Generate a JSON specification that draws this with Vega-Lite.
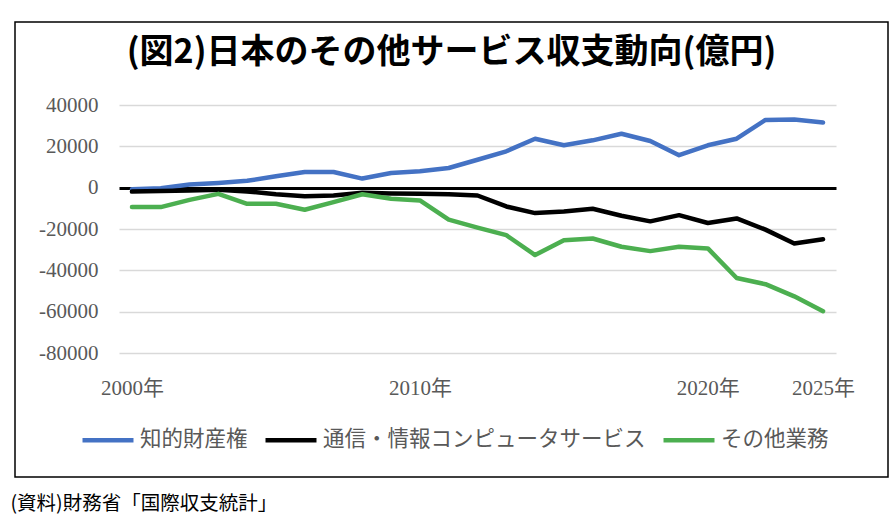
{
  "$schema": "https://vega.github.io/schema/vega-lite/v6.json",
  "description": "日本のその他サービス収支動向（億円）",
  "width": 873,
  "height": 455,
  "autosize": {"type": "none"},
  "padding": {"left": 15, "top": 22, "right": 8, "bottom": 41},
  "title": {
    "text": "(図2)日本のその他サービス収支動向(億円)",
    "font": "Noto Sans CJK JP",
    "fontSize": 34,
    "fontWeight": "bold",
    "color": "#000000",
    "anchor": "middle",
    "frame": "group",
    "baseline": "middle",
    "offset": -65
  },
  "data": {
    "values": [
      {"year": 2000, "series": "知的財産権", "value": -800},
      {"year": 2001, "series": "知的財産権", "value": -300},
      {"year": 2002, "series": "知的財産権", "value": 1500},
      {"year": 2003, "series": "知的財産権", "value": 2300},
      {"year": 2004, "series": "知的財産権", "value": 3300},
      {"year": 2005, "series": "知的財産権", "value": 5500},
      {"year": 2006, "series": "知的財産権", "value": 7600},
      {"year": 2007, "series": "知的財産権", "value": 7600},
      {"year": 2008, "series": "知的財産権", "value": 4400},
      {"year": 2009, "series": "知的財産権", "value": 7100},
      {"year": 2010, "series": "知的財産権", "value": 7900},
      {"year": 2011, "series": "知的財産権", "value": 9500},
      {"year": 2012, "series": "知的財産権", "value": 13500},
      {"year": 2013, "series": "知的財産権", "value": 17600},
      {"year": 2014, "series": "知的財産権", "value": 23700},
      {"year": 2015, "series": "知的財産権", "value": 20500},
      {"year": 2016, "series": "知的財産権", "value": 22900},
      {"year": 2017, "series": "知的財産権", "value": 26100},
      {"year": 2018, "series": "知的財産権", "value": 22600},
      {"year": 2019, "series": "知的財産権", "value": 15700},
      {"year": 2020, "series": "知的財産権", "value": 20500},
      {"year": 2021, "series": "知的財産権", "value": 23700},
      {"year": 2022, "series": "知的財産権", "value": 32800},
      {"year": 2023, "series": "知的財産権", "value": 33000},
      {"year": 2024, "series": "知的財産権", "value": 31500},
      {"year": 2000, "series": "通信・情報コンピュータサービス", "value": -1900},
      {"year": 2001, "series": "通信・情報コンピュータサービス", "value": -1600},
      {"year": 2002, "series": "通信・情報コンピュータサービス", "value": -1400},
      {"year": 2003, "series": "通信・情報コンピュータサービス", "value": -1000},
      {"year": 2004, "series": "通信・情報コンピュータサービス", "value": -1800},
      {"year": 2005, "series": "通信・情報コンピュータサービス", "value": -3200},
      {"year": 2006, "series": "通信・情報コンピュータサービス", "value": -4200},
      {"year": 2007, "series": "通信・情報コンピュータサービス", "value": -3800},
      {"year": 2008, "series": "通信・情報コンピュータサービス", "value": -2500},
      {"year": 2009, "series": "通信・情報コンピュータサービス", "value": -2800},
      {"year": 2010, "series": "通信・情報コンピュータサービス", "value": -2900},
      {"year": 2011, "series": "通信・情報コンピュータサービス", "value": -3200},
      {"year": 2012, "series": "通信・情報コンピュータサービス", "value": -3800},
      {"year": 2013, "series": "通信・情報コンピュータサービス", "value": -9100},
      {"year": 2014, "series": "通信・情報コンピュータサービス", "value": -12300},
      {"year": 2015, "series": "通信・情報コンピュータサービス", "value": -11500},
      {"year": 2016, "series": "通信・情報コンピュータサービス", "value": -10200},
      {"year": 2017, "series": "通信・情報コンピュータサービス", "value": -13600},
      {"year": 2018, "series": "通信・情報コンピュータサービス", "value": -16300},
      {"year": 2019, "series": "通信・情報コンピュータサービス", "value": -13300},
      {"year": 2020, "series": "通信・情報コンピュータサービス", "value": -17100},
      {"year": 2021, "series": "通信・情報コンピュータサービス", "value": -14900},
      {"year": 2022, "series": "通信・情報コンピュータサービス", "value": -20300},
      {"year": 2023, "series": "通信・情報コンピュータサービス", "value": -27000},
      {"year": 2024, "series": "通信・情報コンピュータサービス", "value": -25000},
      {"year": 2000, "series": "その他業務", "value": -9400},
      {"year": 2001, "series": "その他業務", "value": -9400},
      {"year": 2002, "series": "その他業務", "value": -5900},
      {"year": 2003, "series": "その他業務", "value": -3000},
      {"year": 2004, "series": "その他業務", "value": -7800},
      {"year": 2005, "series": "その他業務", "value": -7800},
      {"year": 2006, "series": "その他業務", "value": -10700},
      {"year": 2007, "series": "その他業務", "value": -7000},
      {"year": 2008, "series": "その他業務", "value": -3200},
      {"year": 2009, "series": "その他業務", "value": -5400},
      {"year": 2010, "series": "その他業務", "value": -6200},
      {"year": 2011, "series": "その他業務", "value": -15500},
      {"year": 2012, "series": "その他業務", "value": -19300},
      {"year": 2013, "series": "その他業務", "value": -23000},
      {"year": 2014, "series": "その他業務", "value": -32600},
      {"year": 2015, "series": "その他業務", "value": -25400},
      {"year": 2016, "series": "その他業務", "value": -24600},
      {"year": 2017, "series": "その他業務", "value": -28600},
      {"year": 2018, "series": "その他業務", "value": -30700},
      {"year": 2019, "series": "その他業務", "value": -28600},
      {"year": 2020, "series": "その他業務", "value": -29400},
      {"year": 2021, "series": "その他業務", "value": -43700},
      {"year": 2022, "series": "その他業務", "value": -46700},
      {"year": 2023, "series": "その他業務", "value": -52600},
      {"year": 2024, "series": "その他業務", "value": -59800}
    ]
  },
  "mark": {
    "type": "line",
    "strokeWidth": 4.5,
    "strokeCap": "round",
    "strokeJoin": "round"
  },
  "encoding": {
    "x": {
      "field": "year",
      "type": "ordinal",
      "scale": {"type": "point", "range": [104, 821], "padding": 0.45},
      "axis": {
        "orient": "bottom",
        "offset": -124,
        "domain": false,
        "ticks": false,
        "tickSize": 0,
        "grid": false,
        "labelAngle": 0,
        "labelOverlap": false,
        "labelPadding": 35,
        "labelBaseline": "middle",
        "labelFont": "Liberation Serif, Noto Sans CJK JP",
        "labelFontSize": 21,
        "labelColor": "#595959",
        "labelExpr": "datum.value == 2024 ? '2025年' : (datum.value % 10 == 0 ? datum.value + '年' : '')",
        "title": "(資料)財務省「国際収支統計」",
        "titleFont": "Noto Sans CJK JP",
        "titleFontSize": 19.5,
        "titleFontWeight": "normal",
        "titleColor": "#000000",
        "titleAlign": "left",
        "titleBaseline": "middle",
        "titleX": -5,
        "titleY": 150
      }
    },
    "y": {
      "field": "value",
      "type": "quantitative",
      "scale": {"domain": [-80000, 40000], "range": [331, 83], "nice": false, "zero": false},
      "axis": {
        "orient": "left",
        "offset": -83,
        "values": [-80000, -60000, -40000, -20000, 0, 20000, 40000],
        "labelExpr": "'' + datum.value",
        "domain": false,
        "ticks": false,
        "tickSize": 0,
        "labelPadding": 0,
        "labelFont": "Liberation Serif",
        "labelFontSize": 21,
        "labelColor": "#595959",
        "title": null,
        "grid": true,
        "gridColor": {"condition": {"test": "datum.value === 0", "value": "#000000"}, "value": "#d9d9d9"},
        "gridWidth": {"condition": {"test": "datum.value === 0", "value": 3}, "value": 1.5}
      }
    },
    "color": {
      "field": "series",
      "type": "nominal",
      "sort": ["知的財産権", "通信・情報コンピュータサービス", "その他業務"],
      "scale": {
        "domain": ["知的財産権", "通信・情報コンピュータサービス", "その他業務"],
        "range": ["#4472C4", "#000000", "#4CAF50"]
      },
      "legend": {
        "title": null,
        "orient": "none",
        "direction": "horizontal",
        "legendX": 65,
        "legendY": 390,
        "padding": 0,
        "symbolType": "stroke",
        "symbolSize": 2600,
        "symbolStrokeWidth": 4.5,
        "labelOffset": 4,
        "labelLimit": 500,
        "columnPadding": 8,
        "labelFont": "Noto Sans CJK JP",
        "labelFontSize": 21.5,
        "labelColor": "#595959"
      }
    }
  },
  "config": {
    "view": {"stroke": "#000000", "strokeWidth": 1.5},
    "background": "#ffffff"
  }
}
